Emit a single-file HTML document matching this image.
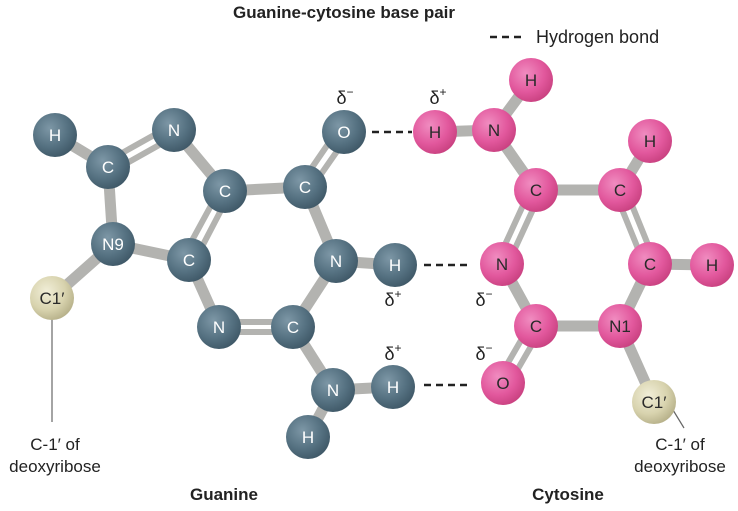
<!DOCTYPE html>
<html><head><meta charset="utf-8"><style>
body{margin:0;background:#fff}
svg text{font-family:"Liberation Sans",sans-serif}
</style></head><body>
<svg width="738" height="506" viewBox="0 0 738 506" xmlns="http://www.w3.org/2000/svg">
<defs>
<radialGradient id="g" cx="0.38" cy="0.35" r="0.7"><stop offset="0" stop-color="#7d97a6"/><stop offset="0.6" stop-color="#557181"/><stop offset="1" stop-color="#3e5766"/></radialGradient>
<radialGradient id="p" cx="0.38" cy="0.35" r="0.7"><stop offset="0" stop-color="#f08cc0"/><stop offset="0.6" stop-color="#e2589d"/><stop offset="1" stop-color="#c8407f"/></radialGradient>
<radialGradient id="y" cx="0.38" cy="0.35" r="0.7"><stop offset="0" stop-color="#f1eed8"/><stop offset="0.6" stop-color="#d8d3ae"/><stop offset="1" stop-color="#b5af88"/></radialGradient>
</defs>
<text x="233" y="18" font-size="17" font-weight="bold" fill="#222">Guanine-cytosine base pair</text>
<line x1="490" y1="37" x2="526" y2="37" stroke="#222" stroke-width="2.5" stroke-dasharray="7,5"/>
<text x="536" y="43" font-size="18" fill="#222">Hydrogen bond</text>
<g stroke="#222" stroke-width="2.5" stroke-dasharray="7,5">
<line x1="372" y1="132" x2="412" y2="132"/><line x1="424" y1="265" x2="470" y2="265"/><line x1="424" y1="385" x2="470" y2="385"/>
</g>
<g stroke="#b3b3b0" stroke-width="11" stroke-linecap="round">
<line x1="55" y1="135" x2="108" y2="167"/><line x1="108" y1="167" x2="113" y2="244"/><line x1="113" y1="244" x2="189" y2="260"/>
<line x1="174" y1="130" x2="225" y2="191"/><line x1="225" y1="191" x2="305" y2="187"/><line x1="305" y1="187" x2="336" y2="261"/>
<line x1="336" y1="261" x2="395" y2="265"/><line x1="336" y1="261" x2="293" y2="327"/><line x1="189" y1="260" x2="219" y2="327"/>
<line x1="293" y1="327" x2="333" y2="390"/><line x1="333" y1="390" x2="393" y2="387"/><line x1="333" y1="390" x2="308" y2="437"/>
<line x1="113" y1="244" x2="52" y2="298"/>
<line x1="435" y1="132" x2="494" y2="130"/><line x1="494" y1="130" x2="531" y2="80"/><line x1="494" y1="130" x2="536" y2="190"/>
<line x1="536" y1="190" x2="620" y2="190"/><line x1="620" y1="190" x2="650" y2="141"/><line x1="650" y1="264" x2="712" y2="265"/>
<line x1="650" y1="264" x2="620" y2="326"/><line x1="620" y1="326" x2="536" y2="326"/><line x1="536" y1="326" x2="502" y2="264"/>
<line x1="620" y1="326" x2="654" y2="402"/>
</g>
<g stroke="#b3b3b0" stroke-width="6" stroke-linecap="round">
<line x1="106" y1="162" x2="172" y2="125"/><line x1="111" y1="172" x2="177" y2="135"/>
<line x1="220" y1="189" x2="183" y2="257"/><line x1="230" y1="193" x2="194" y2="262"/>
<line x1="300" y1="185" x2="339" y2="128"/><line x1="310" y1="190" x2="349" y2="134"/>
<line x1="219" y1="322" x2="293" y2="322"/><line x1="219" y1="332" x2="293" y2="332"/>
<line x1="531" y1="188" x2="497" y2="262"/><line x1="541" y1="192" x2="507" y2="266"/>
<line x1="615" y1="192" x2="645" y2="266"/><line x1="625" y1="188" x2="655" y2="262"/>
<line x1="531" y1="323" x2="498" y2="380"/><line x1="541" y1="329" x2="508" y2="386"/>
</g>
<line x1="52" y1="318" x2="52" y2="422" stroke="#666" stroke-width="1.2"/>
<line x1="673" y1="410" x2="684" y2="428" stroke="#666" stroke-width="1.2"/>
<g font-size="17" text-anchor="middle" fill="#fff">
<g fill="url(#g)">
<circle cx="55" cy="135" r="22"/><circle cx="108" cy="167" r="22"/><circle cx="174" cy="130" r="22"/><circle cx="225" cy="191" r="22"/>
<circle cx="305" cy="187" r="22"/><circle cx="344" cy="132" r="22"/><circle cx="113" cy="244" r="22"/><circle cx="189" cy="260" r="22"/>
<circle cx="336" cy="261" r="22"/><circle cx="395" cy="265" r="22"/><circle cx="219" cy="327" r="22"/><circle cx="293" cy="327" r="22"/>
<circle cx="333" cy="390" r="22"/><circle cx="393" cy="387" r="22"/><circle cx="308" cy="437" r="22"/>
</g>
<text x="55" y="141">H</text><text x="108" y="173">C</text><text x="174" y="136">N</text><text x="225" y="197">C</text>
<text x="305" y="193">C</text><text x="344" y="138">O</text><text x="113" y="250">N9</text><text x="189" y="266">C</text>
<text x="336" y="267">N</text><text x="395" y="271">H</text><text x="219" y="333">N</text><text x="293" y="333">C</text>
<text x="333" y="396">N</text><text x="393" y="393">H</text><text x="308" y="443">H</text>
</g>
<g font-size="17" text-anchor="middle" fill="#2a2a2a">
<g fill="url(#p)">
<circle cx="435" cy="132" r="22"/><circle cx="494" cy="130" r="22"/><circle cx="531" cy="80" r="22"/><circle cx="536" cy="190" r="22"/>
<circle cx="620" cy="190" r="22"/><circle cx="650" cy="141" r="22"/><circle cx="502" cy="264" r="22"/><circle cx="650" cy="264" r="22"/>
<circle cx="712" cy="265" r="22"/><circle cx="536" cy="326" r="22"/><circle cx="620" cy="326" r="22"/><circle cx="503" cy="383" r="22"/>
</g>
<circle cx="52" cy="298" r="22" fill="url(#y)"/><circle cx="654" cy="402" r="22" fill="url(#y)"/>
<text x="435" y="138">H</text><text x="494" y="136">N</text><text x="531" y="86">H</text><text x="536" y="196">C</text>
<text x="620" y="196">C</text><text x="650" y="147">H</text><text x="502" y="270">N</text><text x="650" y="270">C</text>
<text x="712" y="271">H</text><text x="536" y="332">C</text><text x="620" y="332">N1</text><text x="503" y="389">O</text>
<text x="52" y="304">C1′</text><text x="654" y="408">C1′</text>
</g>
<g font-family="Liberation Serif" font-size="18" fill="#222" text-anchor="middle">
<text x="345" y="104">δ<tspan font-size="12" dy="-8">−</tspan></text>
<text x="438" y="104">δ<tspan font-size="12" dy="-8">+</tspan></text>
<text x="393" y="306">δ<tspan font-size="12" dy="-8">+</tspan></text>
<text x="484" y="306">δ<tspan font-size="12" dy="-8">−</tspan></text>
<text x="393" y="360">δ<tspan font-size="12" dy="-8">+</tspan></text>
<text x="484" y="360">δ<tspan font-size="12" dy="-8">−</tspan></text>
</g>
<g font-size="17" fill="#222" text-anchor="middle">
<text x="55" y="450">C-1′ of</text><text x="55" y="472">deoxyribose</text>
<text x="680" y="450">C-1′ of</text><text x="680" y="472">deoxyribose</text>
<text x="224" y="500" font-weight="bold">Guanine</text><text x="568" y="500" font-weight="bold">Cytosine</text>
</g>
</svg>
</body></html>
